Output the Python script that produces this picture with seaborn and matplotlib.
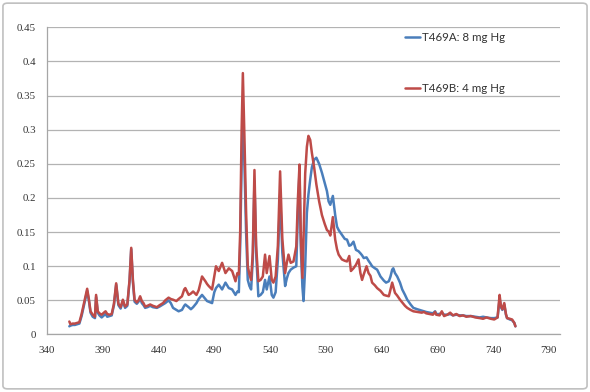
import pandas as pd
import numpy as np
import matplotlib.pyplot as plt
from matplotlib.patches import FancyBboxPatch
import seaborn as sns

# Longueurs d'onde (nm) et absorbances
wavelength = [
    360, 361, 363, 365, 367, 369, 371, 373, 375, 376,
    377.5, 379, 381, 383, 384, 385.5, 387, 389, 391, 392.5,
    394, 396, 398, 400, 402, 404, 406, 408, 410, 412,
    414, 415.5, 417, 418.5, 420.5, 422, 423.5, 425, 426.5, 428,
    430, 432.5, 435, 438.5, 441, 444, 446, 449, 451, 453,
    456, 458, 461, 463, 464, 467, 469, 471, 474, 476,
    479, 482, 483.5, 485, 488, 490, 491.5, 494, 497, 500,
    503, 506, 509, 510.7, 512, 513.2, 514.5, 515.6, 517, 518.5,
    520, 521.5, 523, 524.5, 526, 527.5, 529.5, 531.5, 533.5, 535.5,
    537, 539.5, 541.5, 543, 545, 547, 549, 551, 553.5, 555,
    556.5, 558.5, 561, 563.5, 565, 566.4, 567.5, 569, 570, 571.5,
    573, 574.4, 576, 577.5, 579.5, 581.5, 584, 586.5, 589, 591,
    592.5, 594, 596.3, 598.4, 600, 601.5, 604.4, 607, 609, 611,
    612.5, 614.8, 617, 619.3, 621, 622.5, 624, 626.5, 628.3, 630,
    631.5, 634, 636, 639, 642, 644, 646.5, 648, 649.5, 650.5,
    652, 654, 656.5, 658.5, 661, 663, 666, 668.5, 672, 676,
    678, 680, 683, 686, 688, 689, 692, 694, 696, 699,
    701.5, 704, 707, 710, 713, 716, 720, 724, 728, 731,
    734, 738, 741, 744, 745.8, 747, 748.3, 750, 751.5, 752.5,
    755, 757, 759, 760,
]

t469a_8mg = [
    0.012, 0.013, 0.014, 0.014, 0.015, 0.016, 0.027, 0.042, 0.057, 0.064,
    0.050, 0.032, 0.026, 0.024, 0.055, 0.032, 0.028, 0.025, 0.028, 0.030,
    0.026, 0.027, 0.028, 0.043, 0.073, 0.043, 0.038, 0.049, 0.039, 0.042,
    0.078, 0.125, 0.077, 0.048, 0.045, 0.048, 0.053, 0.046, 0.043, 0.039,
    0.040, 0.042, 0.040, 0.039, 0.041, 0.044, 0.046, 0.050, 0.046, 0.039,
    0.036, 0.034, 0.036, 0.042, 0.044, 0.040, 0.037, 0.040, 0.046, 0.052,
    0.058, 0.052, 0.049, 0.048, 0.046, 0.062, 0.068, 0.073, 0.066, 0.076,
    0.068, 0.066, 0.058, 0.063, 0.062, 0.130, 0.250, 0.324, 0.250, 0.150,
    0.080, 0.071, 0.066, 0.110, 0.225, 0.120, 0.056, 0.058, 0.062, 0.080,
    0.066, 0.085, 0.058, 0.054, 0.062, 0.110, 0.205, 0.120, 0.071, 0.082,
    0.090, 0.095, 0.098, 0.100, 0.180, 0.240, 0.130, 0.070, 0.049, 0.100,
    0.178, 0.205, 0.227, 0.245, 0.256, 0.259, 0.250, 0.237, 0.222, 0.210,
    0.195, 0.190, 0.203, 0.175, 0.158, 0.153, 0.146, 0.140, 0.139, 0.130,
    0.131, 0.136, 0.124, 0.122, 0.119, 0.116, 0.112, 0.113, 0.108, 0.104,
    0.100, 0.097, 0.095, 0.085, 0.079, 0.076, 0.078, 0.085, 0.095, 0.097,
    0.090, 0.085, 0.076, 0.066, 0.058, 0.051, 0.044, 0.039, 0.037, 0.035,
    0.034, 0.033, 0.032, 0.031, 0.034, 0.030, 0.030, 0.032, 0.029, 0.029,
    0.030, 0.028, 0.029, 0.028, 0.028, 0.027, 0.027, 0.026, 0.025, 0.026,
    0.025, 0.024, 0.024, 0.025, 0.052, 0.040, 0.036, 0.044, 0.029, 0.024,
    0.022, 0.021, 0.017, 0.012,
]

t469b_4mg = [
    0.019, 0.015, 0.016, 0.016, 0.017, 0.018, 0.030, 0.045, 0.060, 0.067,
    0.052, 0.034, 0.029, 0.026, 0.058, 0.034, 0.031, 0.029, 0.032, 0.034,
    0.030, 0.029, 0.030, 0.045, 0.075, 0.045, 0.040, 0.051, 0.041, 0.044,
    0.080, 0.127, 0.080, 0.051, 0.047, 0.050, 0.056, 0.049, 0.046, 0.041,
    0.042, 0.044, 0.042, 0.040, 0.043, 0.046, 0.050, 0.054, 0.052, 0.051,
    0.049, 0.052, 0.056, 0.066, 0.068, 0.058, 0.060, 0.063, 0.058, 0.065,
    0.085, 0.078, 0.074, 0.071, 0.066, 0.085, 0.100, 0.093, 0.105, 0.090,
    0.097, 0.093, 0.078, 0.090, 0.088, 0.150, 0.300, 0.383, 0.290, 0.180,
    0.100, 0.088, 0.080, 0.120, 0.241, 0.130, 0.078, 0.080, 0.085, 0.117,
    0.090, 0.115, 0.080, 0.076, 0.085, 0.130, 0.239, 0.140, 0.090, 0.105,
    0.117, 0.105, 0.107, 0.129, 0.200, 0.249, 0.150, 0.083, 0.140, 0.236,
    0.275, 0.291, 0.285, 0.266, 0.245, 0.220, 0.195, 0.175, 0.162, 0.153,
    0.151, 0.145, 0.172, 0.139, 0.125, 0.117, 0.110, 0.108, 0.107, 0.115,
    0.093, 0.097, 0.102, 0.110, 0.090, 0.080, 0.088, 0.100, 0.090, 0.086,
    0.076, 0.072, 0.068, 0.064, 0.058, 0.057, 0.056, 0.066, 0.076, 0.070,
    0.061, 0.057, 0.051, 0.047, 0.042, 0.039, 0.036, 0.034, 0.033, 0.032,
    0.033, 0.031, 0.030, 0.029, 0.033, 0.029, 0.028, 0.034, 0.027, 0.029,
    0.032, 0.028, 0.030, 0.027, 0.028, 0.026, 0.027, 0.025, 0.024, 0.023,
    0.025, 0.023, 0.022, 0.025, 0.058, 0.042, 0.037, 0.046, 0.030, 0.024,
    0.023, 0.022, 0.017, 0.012,
]

series_names = ["T469A: 8 mg Hg", "T469B: 4 mg Hg"]
series_colors = ["#4a7ebb", "#be4b48"]

x_ticks = [340, 390, 440, 490, 540, 590, 640, 690, 740, 790]
y_ticks = [0, 0.05, 0.1, 0.15, 0.2, 0.25, 0.3, 0.35, 0.4, 0.45]
y_labels = ["0", "0.05", "0.1", "0.15", "0.2", "0.25", "0.3", "0.35", "0.4", "0.45"]

df = pd.concat([
    pd.DataFrame({"wl": wavelength, "abs": t469a_8mg, "serie": series_names[0]}),
    pd.DataFrame({"wl": wavelength, "abs": t469b_4mg, "serie": series_names[1]}),
])

sns.set_theme(style="white")

fig = plt.figure(figsize=(5.9, 3.92), dpi=100)
ax = fig.add_axes([0.0797, 0.1467, 0.8695, 0.7835])

sns.lineplot(
    data=df, x="wl", y="abs", hue="serie",
    palette=dict(zip(series_names, series_colors)),
    estimator=None, sort=False, linewidth=1.8, ax=ax
)

ax.set_xlim(340, 800)
ax.set_ylim(0, 0.45)
ax.set_xticks(x_ticks)
ax.set_yticks(y_ticks)
ax.set_yticklabels(y_labels)
ax.set_xlabel("")
ax.set_ylabel("")

# Grade horizontal estilo Excel
ax.grid(axis="y", color="#b3b3b3", linewidth=0.9)
ax.grid(axis="x", visible=False)
ax.set_axisbelow(True)
for side in ["top", "right"]:
    ax.spines[side].set_visible(False)
for side in ["left", "bottom"]:
    ax.spines[side].set_color("#a6a6a6")
    ax.spines[side].set_linewidth(0.9)

ax.tick_params(axis="both", which="major", direction="out", length=3, width=0.8,
               color="#a6a6a6", labelsize=7.8, labelcolor="#333333")
ax.tick_params(axis="y", pad=5)
ax.tick_params(axis="x", pad=5)
for lab in ax.get_xticklabels() + ax.get_yticklabels():
    lab.set_family("Liberation Serif")

handles, labels = ax.get_legend_handles_labels()
leg = ax.legend(handles, labels, loc="upper left", bbox_to_anchor=(0.682, 1.01),
                frameon=False, fontsize=8.3, handlelength=1.3, handletextpad=0.15,
                labelspacing=3.45, borderaxespad=0.3)
for t in leg.get_texts():
    t.set_family("Lato")
    t.set_color("#333333")

# Moldura cinza em volta da figura
fig.patches.append(FancyBboxPatch((0.005, 0.008), 0.99, 0.984,
                                  boxstyle="round,pad=0,rounding_size=0.008",
                                  transform=fig.transFigure, fill=False,
                                  edgecolor="#c0c0c0", linewidth=1.2))

fig.savefig("out.png", dpi=100)
